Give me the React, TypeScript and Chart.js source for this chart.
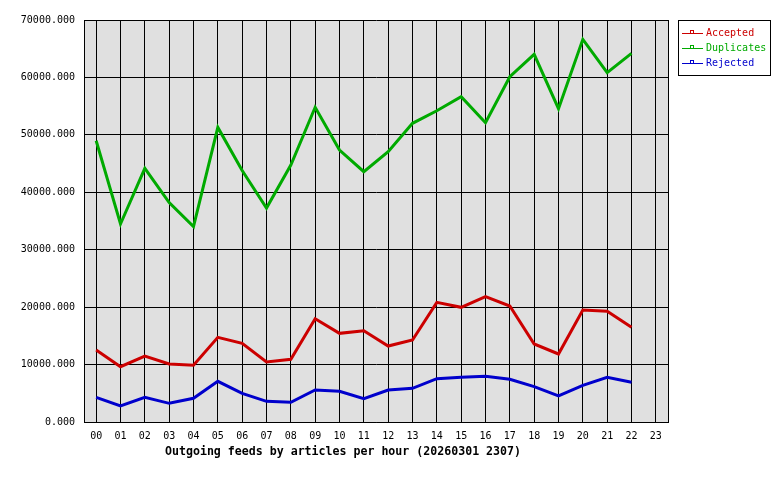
import React, { useEffect, useRef } from "react";
import { Chart, registerables } from "chart.js";

Chart.register(...registerables);

const hours = ["00","01","02","03","04","05","06","07","08","09","10","11","12","13","14","15","16","17","18","19","20","21","22","23"];
const accepted = [12540, 9630, 11490, 10100, 9870, 14740, 13700, 10450, 10910, 17990, 15440, 15900, 13230, 14280, 20840, 19970, 21820, 20200, 13580, 11840, 19500, 19270, 16490, null];
const duplicates = [48980, 34480, 44170, 38200, 34010, 51300, 43800, 37260, 44750, 54800, 47360, 43590, 47070, 52010, 54200, 56650, 52120, 60130, 64030, 54560, 66630, 60830, 64200, null];
const rejected = [4290, 2790, 4290, 3250, 4120, 7080, 4990, 3600, 3430, 5570, 5340, 4060, 5570, 5860, 7540, 7780, 7950, 7430, 6150, 4530, 6390, 7780, 6910, null];
const seriesNames = ["Accepted", "Duplicates", "Rejected"];
const seriesColors = ["#cc0000", "#00aa00", "#0000cc"];
const titleText = "Outgoing feeds by articles per hour (20260301 2307)";

const MONO = "'DejaVu Sans Mono', monospace";

const framePlugin = {
  id: "frame",
  beforeDatasetsDraw(chart: any) {},
  beforeDraw(chart: any) {
    const { ctx, chartArea } = chart;
    ctx.save();
    ctx.fillStyle = "#ffffff";
    ctx.fillRect(0, 0, chart.width, chart.height);
    ctx.fillStyle = "#e0e0e0";
    ctx.fillRect(chartArea.left, chartArea.top, chartArea.right - chartArea.left, chartArea.bottom - chartArea.top);
    ctx.restore();
  },
  afterDraw(chart: any) {
    const { ctx, chartArea } = chart;
    ctx.save();
    ctx.strokeStyle = "#000";
    ctx.lineWidth = 1;
    ctx.beginPath();
    ctx.moveTo(Math.round(chartArea.right) + 0.5, chartArea.top);
    ctx.lineTo(Math.round(chartArea.right) + 0.5, chartArea.bottom);
    ctx.stroke();
    // legend
    const lx = 678.5, ly = 20.5, lw = 92, lh = 55;
    ctx.fillStyle = "#fff";
    ctx.fillRect(lx, ly, lw, lh);
    ctx.strokeRect(lx, ly, lw, lh);
    ctx.font = "10px " + MONO;
    ctx.textBaseline = "middle";
    ctx.textAlign = "left";
    seriesNames.forEach((name, i) => {
      const y = 33 + i * 15;
      ctx.strokeStyle = seriesColors[i];
      ctx.beginPath();
      ctx.moveTo(682, y + 0.5);
      ctx.lineTo(703, y + 0.5);
      ctx.stroke();
      ctx.strokeRect(690.5, y - 2.5, 3, 3);
      ctx.fillStyle = seriesColors[i];
      ctx.fillText(name, 706, y);
    });
    // title
    ctx.fillStyle = "#000";
    ctx.font = "bold 11.6px " + MONO;
    ctx.textAlign = "center";
    ctx.fillText(titleText, 343, 452);
    ctx.restore();
  },
};

export default function App() {
  const ref = useRef<HTMLCanvasElement>(null);
  useEffect(() => {
    const data = [accepted, duplicates, rejected];
    const chart = new Chart(ref.current!, {
      type: "line",
      data: {
        labels: hours,
        datasets: seriesNames.map((name, i) => ({
          label: name,
          data: data[i],
          borderColor: seriesColors[i],
          backgroundColor: seriesColors[i],
          borderWidth: 3,
          pointRadius: 0,
          tension: 0,
          fill: false,
        })),
      },
      options: {
        animation: false,
        responsive: false,
        layout: { padding: { left: 0, top: 20, right: 112, bottom: 0 } },
        plugins: { legend: { display: false }, tooltip: { enabled: false } },
        scales: {
          x: {
            offset: true,
            grid: { color: "#000", lineWidth: 1, drawTicks: false, offset: false },
            border: { color: "#000", width: 1 },
            ticks: { color: "#000", font: { family: MONO, size: 10 }, padding: 8, maxRotation: 0, autoSkip: false },
            afterFit: (s: any) => { s.height = 58; },
          },
          y: {
            min: 0,
            max: 70000,
            grid: { color: "#000", lineWidth: 1, drawTicks: false },
            border: { color: "#000", width: 1 },
            ticks: {
              stepSize: 10000,
              color: "#000",
              font: { family: MONO, size: 10 },
              padding: 9,
              callback: (v: any) => Number(v).toFixed(3),
            },
            afterFit: (s: any) => { s.width = 84; },
          },
        },
      },
      plugins: [framePlugin],
    });
    return () => chart.destroy();
  }, []);
  return (
    <div style={{ position: "fixed", left: 0, top: 0, width: 780, height: 480, background: "#fff" }}>
      <canvas ref={ref} width={780} height={480} />
    </div>
  );
}
